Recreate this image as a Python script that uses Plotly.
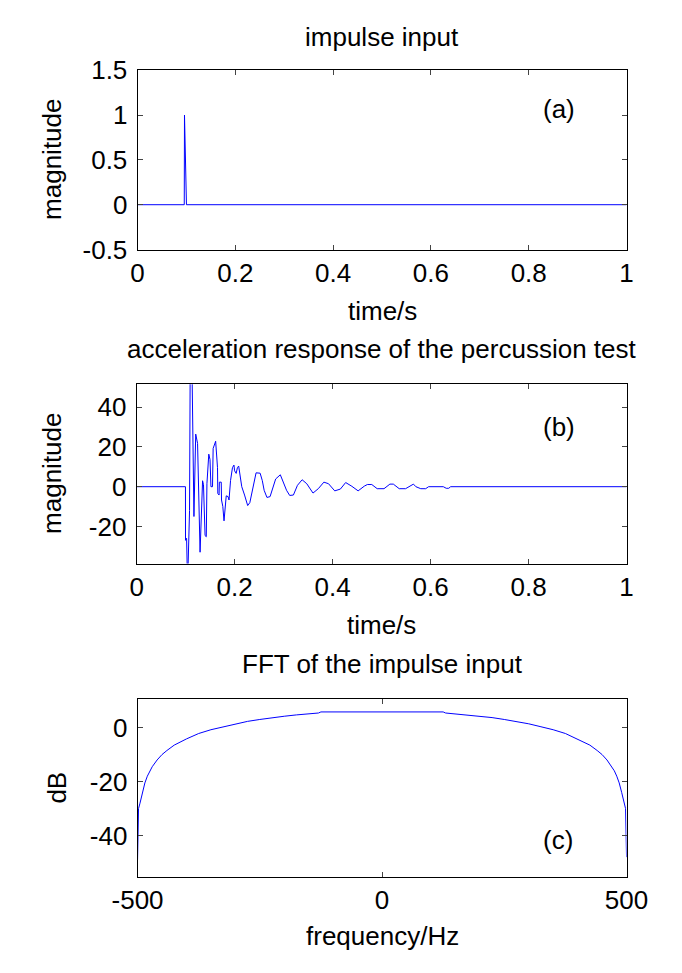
import plotly.graph_objects as go

# ---------------- data ----------------
# (a) impulse input
t_a = [0.0, 0.0955, 0.096, 0.1, 1.0]
y_a = [0.0, 0.0, 1.0, 0.0, 0.0]

# (b) acceleration response of the percussion test
t_b = [0.0, 0.0997, 0.0998, 0.102, 0.104, 0.108, 0.1095, 0.1125, 0.117, 0.1206,
       0.1244, 0.1295, 0.1346, 0.1365, 0.1397, 0.1422, 0.1435, 0.1473, 0.1498, 0.1517,
       0.1549, 0.1562, 0.1613, 0.1651, 0.1657, 0.1683, 0.1689, 0.1727, 0.1733, 0.1759,
       0.1784, 0.1803, 0.1829, 0.1867, 0.1886, 0.1917, 0.1956, 0.1987, 0.2, 0.2032,
       0.2057, 0.2083, 0.2108, 0.2146, 0.2203, 0.2267, 0.2311, 0.2349, 0.2394, 0.2438,
       0.2521, 0.2565, 0.2603, 0.266, 0.2724, 0.2775, 0.2838, 0.2933, 0.2997, 0.306,
       0.3124, 0.32, 0.3283, 0.3378, 0.3473, 0.36, 0.3708, 0.3822, 0.3917, 0.4044,
       0.4159, 0.4267, 0.4394, 0.4521, 0.4648, 0.471, 0.48, 0.491, 0.505, 0.517,
       0.524, 0.536, 0.549, 0.555, 0.565, 0.570, 0.580, 0.590, 0.596, 0.626,
       0.632, 0.637, 0.641, 1.0]
y_b = [0.0, 0.0, -27.0, -26.0, -50.0, -12.0, 70.0, 70.0, -15.0, 26.5,
       21.8, -33.0, 3.0, 1.0, -24.6, -25.2, 1.5, 16.4, 13.7, 0.0,
       0.0, 19.3, 22.9, 9.6, -3.4, -4.2, 2.3, 2.3, -6.7, -9.9,
       -17.2, -13.2, -4.6, -5.0, -6.7, 3.1, 9.6, 10.9, 8.0, 6.7,
       9.6, 10.4, 6.3, 0.0, -4.2, -9.5, -8.0, -3.4, 1.5, 7.0,
       6.8, 3.1, -1.8, -5.4, -5.0, -1.0, 3.9, 6.0, 2.3, -1.8,
       -4.4, -4.2, 0.7, 3.5, 1.5, -3.2, -1.0, 2.3, 1.5, -2.1,
       -1.2, 2.1, 0.2, -2.1, 0.3, 1.1, 1.1, -1.0, -1.0, 1.3,
       1.3, -1.0, -1.0, 0.0, 1.3, 0.0, -1.0, -1.0, 0.0, 0.0,
       -0.8, -0.8, 0.0, 0.0]

# (c) FFT of the impulse input
f_c = [-500, -498, -495, -490, -485, -480, -475, -470, -460, -450, -440, -425,
       -400, -375, -350, -325, -300, -275, -250, -225, -200, -175, -150, -130,
       -125, -100, -50, 0, 50, 100, 125, 130, 150, 175, 200, 225, 250, 275,
       300, 325, 350, 375, 400, 425, 440, 450, 460, 470, 475, 480, 485, 490,
       495, 498, 500]
db_c = [-49.0, -30.0, -28.0, -24.0, -20.5, -18.0, -16.0, -14.5, -12.0, -10.0, -8.5, -6.5,
        -4.2, -2.2, -0.8, 0.3, 1.4, 2.3, 3.0, 3.7, 4.2, 4.7, 5.1, 5.4,
        5.8, 5.8, 5.8, 5.8, 5.8, 5.8, 5.8, 5.4, 5.1, 4.7, 4.2, 3.7, 3.0, 2.3,
        1.4, 0.3, -0.8, -2.2, -4.2, -6.5, -8.5, -10.0, -12.0, -14.5, -16.0, -18.0, -20.5, -24.0,
        -28.0, -30.0, -48.0]

titles = ["impulse input", "acceleration response of the percussion test", "FFT of the impulse input"]
xlabels = ["time/s", "time/s", "frequency/Hz"]
ylabels = ["magnitude", "magnitude", "dB"]
tags = ["(a)", "(b)", "(c)"]
xticks = [[0, 0.2, 0.4, 0.6, 0.8, 1], [0, 0.2, 0.4, 0.6, 0.8, 1], [-500, 0, 500]]
yticks = [[-0.5, 0, 0.5, 1, 1.5], [-20, 0, 20, 40], [-40, -20, 0]]

# ---------------- layout helpers ----------------
W, H = 682, 973
FONT = "Liberation Sans, Arial, sans-serif"
FS = 26
LINE = "#0000FF"

def px_x(p):
    return p / W

def px_y(p):
    return 1 - p / H

# panel pixel boxes: (left, right, top, bottom)
boxes = [(120, 646, 57, 242), (119, 646, 381, 566), (120, 646, 706, 889)]
xranges = [[0, 1], [0, 1], [-500, 500]]
yranges = [[-0.5, 1.5], [-38.7, 51.6], [-55.2, 10.5]]

fig = go.Figure()
series = [(t_a, y_a), (t_b, y_b), (f_c, db_c)]
for i, (xs, ys) in enumerate(series):
    sfx = "" if i == 0 else str(i + 1)
    fig.add_trace(go.Scatter(x=xs, y=ys, mode="lines", line=dict(color=LINE, width=1),
                             xaxis="x" + sfx, yaxis="y" + sfx, showlegend=False))

axis_common = dict(showline=True, linecolor="black", linewidth=1, mirror="ticks",
                   ticks="inside", ticklen=5, tickcolor="#444444", showgrid=False,
                   zeroline=False, tickfont=dict(family=FONT, size=FS, color="black"))

layout = dict(width=W, height=H, margin=dict(l=0, r=0, t=0, b=0),
              paper_bgcolor="white", plot_bgcolor="white", showlegend=False)

for i, (l, r, t, b) in enumerate(boxes):
    sfx = "" if i == 0 else str(i + 1)
    layout["xaxis" + sfx] = dict(axis_common, domain=[px_x(l), px_x(r)], range=xranges[i],
                                 tickvals=xticks[i], ticktext=[f"{v:g}" for v in xticks[i]],
                                 anchor="y" + sfx, ticklabelstandoff=0)
    layout["yaxis" + sfx] = dict(axis_common, domain=[px_y(b), px_y(t)], range=yranges[i],
                                 tickvals=yticks[i], ticktext=[f"{v:g}" for v in yticks[i]],
                                 anchor="x" + sfx, ticklabelstandoff=4)

fig.update_layout(**layout)

ann = []
title_y = [23, 345, 670]
xlabel_y = [305, 629, 950]
ylabel_x = [28, 28, 33]
tag_pos = [(0.862, 1.068), (0.862, 29.9), (360, -41.8)]
for i, (l, r, t, b) in enumerate(boxes):
    sfx = "" if i == 0 else str(i + 1)
    cx = px_x((l + r) / 2)
    ann.append(dict(text=titles[i], x=cx, y=px_y(title_y[i]), xref="paper", yref="paper",
                    showarrow=False, xanchor="center", yanchor="middle",
                    font=dict(family=FONT, size=FS, color="black")))
    ann.append(dict(text=xlabels[i], x=cx, y=px_y(xlabel_y[i]), xref="paper", yref="paper",
                    showarrow=False, xanchor="center", yanchor="middle",
                    font=dict(family=FONT, size=FS, color="black")))
    ann.append(dict(text=ylabels[i], x=px_x(ylabel_x[i]), y=px_y((t + b) / 2), xref="paper",
                    yref="paper", showarrow=False, xanchor="center", yanchor="middle",
                    textangle=-90, font=dict(family=FONT, size=FS, color="black")))
    ann.append(dict(text=tags[i], x=tag_pos[i][0], y=tag_pos[i][1], xref="x" + sfx,
                    yref="y" + sfx, showarrow=False, xanchor="center", yanchor="middle",
                    font=dict(family=FONT, size=FS, color="black")))

fig.update_layout(annotations=ann)
fig.write_html("out.html")
